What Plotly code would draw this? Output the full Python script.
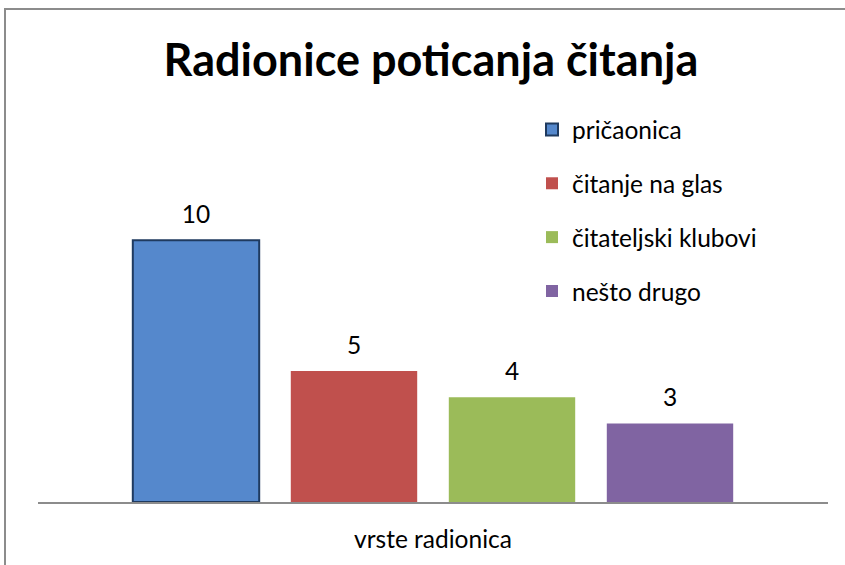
import plotly.graph_objects as go

category = ["vrste radionica"]
series_names = ["pričaonica", "čitanje na glas", "čitateljski klubovi", "nešto drugo"]
series_values = [10, 5, 4, 3]
series_colors = ["#5588CC", "#C0504D", "#9BBB59", "#8064A2"]
title_text = "Radionice poticanja čitanja"

W, H = 845, 565
ml, mr, mt, mb = 38, 17, 180, 63
FONT = "Lato, Open Sans, sans-serif"
FS = 24.5

fig = go.Figure()
for i, (name, val, col) in enumerate(zip(series_names, series_values, series_colors)):
    line = dict(color="#1F3A5F", width=2) if i == 0 else dict(width=0)
    fig.add_trace(go.Bar(
        x=category, y=[val], name=name,
        marker=dict(color=col, line=line),
        offsetgroup=str(i), legendgroup=name,
    ))
for i, (name, val) in enumerate(zip(series_names, series_values)):
    fig.add_trace(go.Scatter(
        x=category, y=[val], mode="markers+text", text=[str(val)],
        textposition="top center", offsetgroup=str(i),
        marker=dict(size=16, opacity=0), showlegend=False, hoverinfo="skip",
        textfont=dict(size=FS, color="#000000", family=FONT), cliponaxis=False,
    ))

pw = W - ml - mr
ph = H - mt - mb
def px(x):
    return (x - ml) / pw
def py(y):
    return (H - mb - y) / ph

fig.update_layout(
    width=W, height=H,
    margin=dict(l=ml, r=mr, t=mt, b=mb, pad=0, autoexpand=False),
    paper_bgcolor="white", plot_bgcolor="white",
    barmode="group", bargap=0.2, bargroupgap=0.2,
    scattermode="group", scattergap=0.2,
    title=dict(text="<b>" + title_text + "</b>", x=0.51, xanchor="center", y=1 - 60 / H, yanchor="middle",
               font=dict(size=45, color="#000000", family=FONT)),
    font=dict(family=FONT, size=FS, color="#000000"),
    showlegend=True,
    legend=dict(x=px(532), xanchor="left", y=py(107), yanchor="top",
                font=dict(size=FS), tracegroupgap=19, traceorder="grouped",
                bgcolor="rgba(0,0,0,0)"),
    xaxis=dict(showline=True, linecolor="#8C8C8C", linewidth=2, ticks="", showgrid=False,
               automargin=False, ticklabelstandoff=15, tickfont=dict(size=FS)),
    yaxis=dict(visible=False, range=[0, 12.3], showgrid=False, zeroline=False, automargin=False),
    shapes=[dict(type="path", xref="paper", yref="paper",
                 path=f"M {px(5)} {py(580)} L {px(5)} {py(9)} L {px(860)} {py(9)}",
                 line=dict(color="#8C8C8C", width=2))],
)

fig.write_html("out.html", config={"displayModeBar": False},
               post_script="document.body.style.margin='0';document.body.style.overflow='hidden';")
